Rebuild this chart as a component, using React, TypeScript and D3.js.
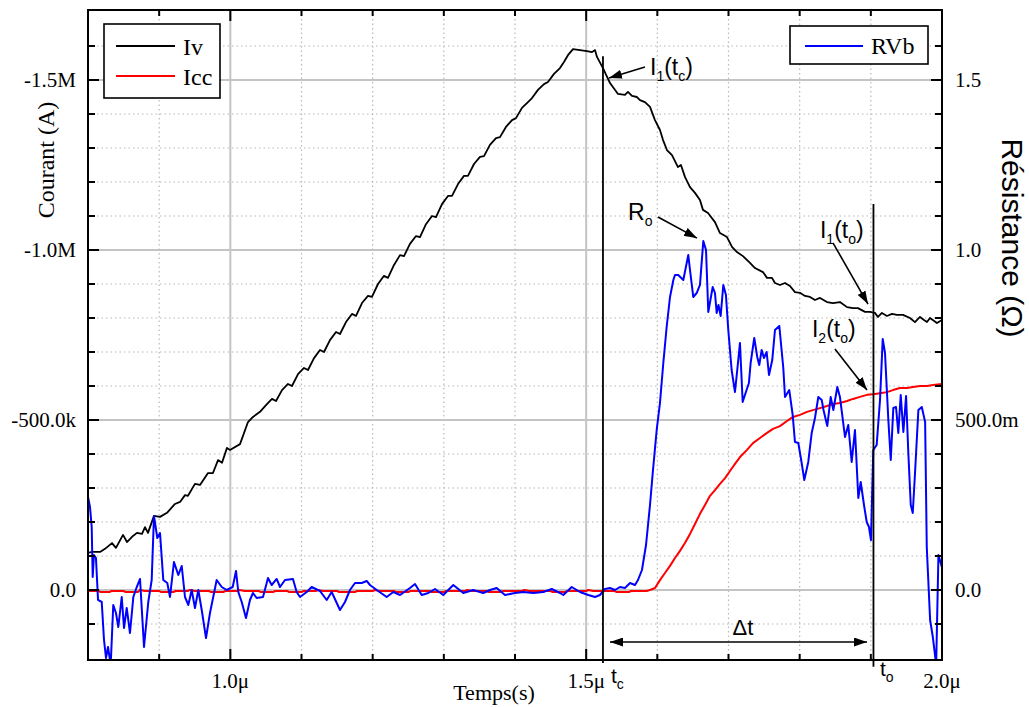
import React from 'react';
import * as d3 from 'd3';

// ---------- data (time in µs, current in kA, resistance in Ω) ----------
const IV: [number, number][] = [
[0.8000,-109],[0.8056,-112],[0.8169,-112],[0.8239,-121],[0.8337,-138],[0.8393,-124],[0.8492,-162],[0.8548,-141],[0.8632,-159],[0.8688,-168],[0.8759,-165],[0.8801,-185],[0.8843,-168],[0.8927,-218],[0.9012,-215],[0.9110,-227],[0.9222,-253],[0.9293,-259],[0.9363,-279],[0.9405,-277],[0.9503,-312],[0.9574,-309],[0.9686,-344],[0.9756,-344],[0.9827,-382],[0.9883,-374],[0.9953,-418],[0.9995,-412],[1.0136,-429],[1.0248,-494],[1.0318,-509],[1.0417,-524],[1.0501,-544],[1.0585,-562],[1.0642,-556],[1.0726,-588],[1.0810,-606],[1.0866,-600],[1.0951,-635],[1.1035,-653],[1.1091,-647],[1.1176,-682],[1.1260,-706],[1.1316,-700],[1.1400,-735],[1.1485,-759],[1.1541,-753],[1.1625,-788],[1.1709,-812],[1.1766,-806],[1.1850,-844],[1.1934,-865],[1.1990,-862],[1.2075,-900],[1.2159,-924],[1.2215,-918],[1.2300,-956],[1.2384,-985],[1.2440,-982],[1.2524,-1018],[1.2609,-1041],[1.2665,-1038],[1.2749,-1076],[1.2834,-1100],[1.2890,-1097],[1.2974,-1135],[1.3058,-1159],[1.3115,-1159],[1.3199,-1194],[1.3283,-1218],[1.3339,-1218],[1.3424,-1253],[1.3508,-1274],[1.3564,-1276],[1.3648,-1309],[1.3733,-1329],[1.3789,-1332],[1.3873,-1362],[1.3958,-1382],[1.4014,-1388],[1.4098,-1418],[1.4182,-1435],[1.4239,-1447],[1.4323,-1471],[1.4407,-1488],[1.4463,-1494],[1.4548,-1518],[1.4632,-1535],[1.4688,-1553],[1.4744,-1573],[1.4815,-1591],[1.4913,-1588],[1.5011,-1585],[1.5082,-1582],[1.5124,-1588],[1.5152,-1568],[1.5236,-1535],[1.5335,-1491],[1.5447,-1459],[1.5545,-1456],[1.5587,-1465],[1.5644,-1453],[1.5714,-1450],[1.5756,-1441],[1.5826,-1435],[1.5897,-1421],[1.5967,-1382],[1.6037,-1353],[1.6079,-1324],[1.6135,-1294],[1.6206,-1279],[1.6290,-1244],[1.6332,-1250],[1.6388,-1215],[1.6459,-1185],[1.6529,-1168],[1.6599,-1147],[1.6641,-1118],[1.6712,-1109],[1.6810,-1082],[1.6880,-1050],[1.6979,-1038],[1.7049,-1009],[1.7119,-994],[1.7203,-982],[1.7302,-962],[1.7372,-947],[1.7484,-935],[1.7541,-918],[1.7611,-918],[1.7653,-903],[1.7723,-897],[1.7794,-903],[1.7864,-894],[1.7934,-876],[1.8004,-874],[1.8075,-865],[1.8145,-862],[1.8215,-853],[1.8285,-859],[1.8384,-847],[1.8468,-844],[1.8566,-847],[1.8665,-832],[1.8749,-829],[1.8819,-829],[1.8918,-818],[1.8988,-818],[1.9058,-815],[1.9100,-803],[1.9156,-815],[1.9227,-806],[1.9297,-812],[1.9367,-809],[1.9452,-809],[1.9550,-800],[1.9620,-788],[1.9691,-803],[1.9747,-794],[1.9789,-788],[1.9831,-800],[1.9929,-785],[2.0000,-794]
];

const ICC: [number, number][] = [
[0.800,3],[0.815,3],[0.818,6],[0.830,6],[0.833,3],[0.850,3],[0.853,6],[0.870,6],[0.873,0],[0.880,3],[0.900,3],[0.903,6],[0.920,6],[0.923,3],[0.940,3],[0.943,0],[0.950,3],[0.970,3],[0.973,6],[0.990,6],[0.993,3],[1.010,3],[1.013,0],[1.020,3],[1.040,3],[1.043,6],[1.060,6],[1.063,3],[1.080,3],[1.083,6],[1.100,6],[1.103,3],[1.120,3],[1.123,0],[1.130,3],[1.150,3],[1.153,6],[1.175,6],[1.178,3],[1.200,3],[1.203,0],[1.210,3],[1.230,3],[1.233,6],[1.250,6],[1.253,3],[1.280,3],[1.283,6],[1.300,6],[1.303,3],[1.330,3],[1.333,0],[1.340,3],[1.360,3],[1.363,6],[1.380,6],[1.383,3],[1.410,3],[1.413,0],[1.420,3],[1.450,3],[1.453,6],[1.470,6],[1.473,3],[1.500,3],[1.503,0],[1.510,3],[1.540,3],[1.543,6],[1.560,6],[1.563,3],[1.585,3],
[1.5897,0],[1.5967,-6],[1.6037,-29],[1.6107,-50],[1.6178,-71],[1.6248,-94],[1.6318,-115],[1.6388,-138],[1.6459,-165],[1.6529,-194],[1.6599,-224],[1.6670,-250],[1.6740,-277],[1.6810,-294],[1.6880,-312],[1.6951,-329],[1.7021,-350],[1.7091,-371],[1.7162,-391],[1.7260,-412],[1.7344,-432],[1.7442,-447],[1.7541,-462],[1.7625,-474],[1.7723,-482],[1.7822,-497],[1.7906,-509],[1.8004,-515],[1.8103,-524],[1.8187,-529],[1.8285,-535],[1.8384,-541],[1.8468,-547],[1.8566,-550],[1.8665,-556],[1.8749,-562],[1.8847,-568],[1.8946,-574],[1.9030,-576],[1.9129,-579],[1.9227,-582],[1.9311,-588],[1.9409,-594],[1.9508,-594],[1.9592,-597],[1.9691,-600],[1.9789,-600],[1.9873,-603],[2.0000,-606]
];

const RVB: [number, number][] = [
[0.8000,0.2735],[0.8028,0.2441],[0.8052,0.1853],[0.8066,0.0382],[0.8084,0.1029],[0.8112,0.0941],[0.8141,-0.0294],[0.8193,-0.0353],[0.8225,-0.1471],[0.8253,-0.2000],[0.8281,-0.1676],[0.8319,-0.2200],[0.8355,-0.0441],[0.8393,-0.0676],[0.8426,-0.1088],[0.8474,-0.0206],[0.8506,-0.1118],[0.8544,-0.0529],[0.8590,-0.1265],[0.8637,-0.0206],[0.8685,0.0088],[0.8731,0.0324],[0.8787,-0.1676],[0.8847,-0.0353],[0.8895,0.0294],[0.8927,0.2176],[0.8974,0.1529],[0.9012,0.1676],[0.9058,0.0294],[0.9114,0.0206],[0.9152,-0.0206],[0.9208,0.0824],[0.9269,0.0441],[0.9317,0.0706],[0.9363,-0.0206],[0.9409,-0.0441],[0.9457,0.0000],[0.9503,-0.0529],[0.9550,0.0000],[0.9598,-0.0588],[0.9658,-0.1412],[0.9714,-0.0676],[0.9808,0.0294],[0.9879,0.0088],[0.9949,0.0000],[1.0033,0.0088],[1.0080,0.0559],[1.0112,-0.0059],[1.0160,-0.0353],[1.0220,-0.0824],[1.0276,-0.0294],[1.0318,-0.0088],[1.0370,-0.0235],[1.0459,-0.0206],[1.0511,0.0206],[1.0529,0.0353],[1.0581,0.0147],[1.0651,0.0324],[1.0698,0.0088],[1.0768,0.0294],[1.0880,0.0324],[1.0932,-0.0059],[1.0979,-0.0206],[1.1073,-0.0059],[1.1143,0.0088],[1.1260,-0.0029],[1.1354,-0.0294],[1.1424,-0.0059],[1.1541,-0.0588],[1.1611,-0.0353],[1.1681,0.0000],[1.1752,0.0206],[1.1846,0.0206],[1.1916,0.0265],[1.1962,0.0147],[1.2057,0.0000],[1.2197,-0.0206],[1.2290,-0.0059],[1.2384,-0.0147],[1.2524,0.0059],[1.2595,0.0176],[1.2689,-0.0147],[1.2782,-0.0088],[1.2876,0.0029],[1.2992,-0.0147],[1.3133,0.0147],[1.3273,-0.0088],[1.3414,0.0000],[1.3554,-0.0088],[1.3649,0.0000],[1.3743,0.0059],[1.3859,-0.0147],[1.4000,-0.0088],[1.4117,-0.0059],[1.4257,-0.0088],[1.4398,-0.0059],[1.4516,0.0029],[1.4632,-0.0088],[1.4679,-0.0147],[1.4797,0.0088],[1.4913,-0.0059],[1.5030,-0.0147],[1.5124,-0.0206],[1.5194,-0.0147],[1.5264,0.0029],[1.5335,0.0059],[1.5405,0.0000],[1.5475,0.0088],[1.5545,0.0059],[1.5616,0.0206],[1.5686,0.0147],[1.5728,0.0294],[1.5784,0.0588],[1.5841,0.1324],[1.5897,0.2500],[1.5939,0.3529],[1.5991,0.4706],[1.6037,0.5500],[1.6084,0.6676],[1.6131,0.7735],[1.6178,0.8618],[1.6225,0.9118],[1.6248,0.9265],[1.6294,0.9265],[1.6365,0.9118],[1.6435,0.9853],[1.6459,0.9412],[1.6505,0.8618],[1.6553,0.8735],[1.6599,0.8971],[1.6646,1.0265],[1.6684,1.0000],[1.6716,0.8176],[1.6778,0.8912],[1.6810,0.8735],[1.6834,0.8147],[1.6859,0.8382],[1.6890,0.8059],[1.6927,0.8971],[1.6964,0.8676],[1.6997,0.7647],[1.7044,0.6471],[1.7091,0.5824],[1.7123,0.6471],[1.7161,0.7265],[1.7199,0.5529],[1.7254,0.5882],[1.7287,0.6088],[1.7311,0.6676],[1.7362,0.7412],[1.7404,0.6853],[1.7432,0.6618],[1.7466,0.7059],[1.7498,0.6824],[1.7536,0.7000],[1.7569,0.6324],[1.7615,0.6765],[1.7653,0.7647],[1.7714,0.7765],[1.7770,0.6529],[1.7794,0.5676],[1.7854,0.5882],[1.7902,0.5147],[1.7934,0.4353],[1.7981,0.4324],[1.8028,0.3735],[1.8065,0.3235],[1.8121,0.3765],[1.8169,0.4618],[1.8215,0.5059],[1.8262,0.5676],[1.8310,0.5588],[1.8335,0.5294],[1.8388,0.4824],[1.8436,0.5676],[1.8473,0.5294],[1.8529,0.5971],[1.8566,0.5676],[1.8637,0.4500],[1.8683,0.4853],[1.8731,0.3765],[1.8777,0.4706],[1.8824,0.2706],[1.8858,0.3176],[1.8904,0.2500],[1.8942,0.2000],[1.8974,0.1853],[1.9002,0.1471],[1.9034,0.4118],[1.9082,0.4265],[1.9129,0.5588],[1.9167,0.7382],[1.9199,0.6971],[1.9246,0.5000],[1.9280,0.3824],[1.9316,0.5353],[1.9354,0.5382],[1.9386,0.4618],[1.9420,0.5735],[1.9457,0.4647],[1.9495,0.5706],[1.9527,0.4029],[1.9561,0.2500],[1.9589,0.2265],[1.9621,0.3441],[1.9668,0.5294],[1.9716,0.5382],[1.9763,0.4941],[1.9786,0.1265],[1.9833,-0.0882],[1.9871,-0.1382],[1.9918,-0.2200],[1.9950,0.1029],[1.9998,0.0676]
];

// ticks
const X_MAJOR = [1.0, 1.5, 2.0];
const X_MAJOR_LABELS = ['1.0\u03bc', '1.5\u03bc', '2.0\u03bc'];
const X_MINOR = [0.9, 1.1, 1.2, 1.3, 1.4, 1.6, 1.7, 1.8, 1.9];
const I_MAJOR = [0, -500, -1000, -1500];
const I_MAJOR_LABELS = ['0.0', '-500.0k', '-1.0M', '-1.5M'];
const I_MINOR = [100, -100, -200, -300, -400, -600, -700, -800, -900, -1100, -1200, -1300, -1400, -1600];
const R_MAJOR = [0, 0.5, 1.0, 1.5];
const R_MAJOR_LABELS = ['0.0', '500.0m', '1.0', '1.5'];

// annotation anchors (data units)
const T_C = 1.5236;
const T_O = 1.9037;

const SERIF = "'Liberation Serif', 'Times New Roman', Times, serif";
const SANS = "'Liberation Sans', Arial, Helvetica, sans-serif";

const W = 1029, H = 707;
const L = 88, R = 942, T = 10, B = 660;

type Part = { s: string; sub?: boolean };

function SubLabel({ x, y, parts, size = 23, subSize = 14, anchor = 'start' }:
  { x: number; y: number; parts: Part[]; size?: number; subSize?: number; anchor?: string }) {
  let prevSub = false;
  return (
    <text x={x} y={y} fontFamily={SANS} fontSize={size} textAnchor={anchor} fill="#000">
      {parts.map((p, i) => {
        let dy = 0;
        if (p.sub && !prevSub) dy = 6;
        if (!p.sub && prevSub) dy = -6;
        prevSub = !!p.sub;
        return (
          <tspan key={i} dy={dy} fontSize={p.sub ? subSize : size}>{p.s}</tspan>
        );
      })}
    </text>
  );
}

export default function App() {
  const x = d3.scaleLinear().domain([0.8, 2.0]).range([L, R]);
  const yI = d3.scaleLinear().domain([205.9, -1705.9]).range([B, T]);
  const yR = d3.scaleLinear().domain([-0.2059, 1.7059]).range([B, T]);

  const lineI = d3.line<[number, number]>().x(d => x(d[0])).y(d => yI(d[1]));
  const lineR = d3.line<[number, number]>().x(d => x(d[0])).y(d => yR(d[1]));

  const gridMinor = '#b8b8b8';
  const gridMajor = '#c4c4c4';

  return (
    <svg width={W} height={H} style={{ position: 'absolute', left: 0, top: 0, background: '#fff' }}>
      <defs>
        <clipPath id="plot"><rect x={L} y={T} width={R - L} height={B - T} /></clipPath>
        <marker id="ah" viewBox="0 0 13 9" refX="13" refY="4.5" markerWidth="13" markerHeight="9"
          markerUnits="userSpaceOnUse" orient="auto-start-reverse">
          <path d="M0,0 L13,4.5 L0,9 z" fill="#000" />
        </marker>
      </defs>
      <rect x={0} y={0} width={W} height={H} fill="#fff" />

      {/* minor grid */}
      <g stroke={gridMinor} strokeWidth={1.2} strokeDasharray="1.5,3">
        {X_MINOR.map(v => <line key={'gx' + v} x1={x(v)} x2={x(v)} y1={T} y2={B} />)}
        {I_MINOR.map(v => <line key={'gy' + v} x1={L} x2={R} y1={yI(v)} y2={yI(v)} />)}
      </g>
      {/* major grid */}
      <g stroke={gridMajor} strokeWidth={2}>
        {X_MAJOR.filter(v => v < 2.0).map(v => <line key={'Gx' + v} x1={x(v)} x2={x(v)} y1={T} y2={B} />)}
        {I_MAJOR.map(v => <line key={'Gy' + v} x1={L} x2={R} y1={yI(v)} y2={yI(v)} />)}
      </g>

      {/* curves */}
      <g clipPath="url(#plot)" fill="none" strokeLinejoin="round">
        <path d={lineI(IV) || ''} stroke="#000" strokeWidth={1.8} />
        <path d={lineI(ICC) || ''} stroke="#ff0000" strokeWidth={2} />
        <path d={lineR(RVB) || ''} stroke="#0000ff" strokeWidth={2} />
      </g>

      {/* ticks */}
      <g stroke="#000" strokeWidth={2}>
        {X_MAJOR.map(v => (
          <g key={'tx' + v}>
            <line x1={x(v)} x2={x(v)} y1={B} y2={B - 11} />
            <line x1={x(v)} x2={x(v)} y1={T} y2={T + 11} />
          </g>
        ))}
        {X_MINOR.map(v => (
          <g key={'tmx' + v}>
            <line x1={x(v)} x2={x(v)} y1={B} y2={B - 6} />
            <line x1={x(v)} x2={x(v)} y1={T} y2={T + 6} />
          </g>
        ))}
        {I_MAJOR.map(v => (
          <g key={'ty' + v}>
            <line x1={L} x2={L + 11} y1={yI(v)} y2={yI(v)} />
            <line x1={R} x2={R - 11} y1={yI(v)} y2={yI(v)} />
          </g>
        ))}
        {I_MINOR.map(v => (
          <g key={'tmy' + v}>
            <line x1={L} x2={L + 7} y1={yI(v)} y2={yI(v)} />
            <line x1={R} x2={R - 7} y1={yI(v)} y2={yI(v)} />
          </g>
        ))}
      </g>

      {/* frame */}
      <rect x={L} y={T} width={R - L} height={B - T} fill="none" stroke="#000" strokeWidth={2} />

      {/* tick labels */}
      <g fontFamily={SERIF} fontSize={21} fill="#000">
        {X_MAJOR.map((v, i) => (
          <text key={'lx' + v} x={x(v)} y={688} textAnchor="middle">{X_MAJOR_LABELS[i]}</text>
        ))}
        {I_MAJOR.map((v, i) => (
          <text key={'ly' + v} x={L - 12} y={yI(v) + 7} textAnchor="end">{I_MAJOR_LABELS[i]}</text>
        ))}
        {R_MAJOR.map((v, i) => (
          <text key={'lr' + v} x={R + 13} y={yR(v) + 7} textAnchor="start">{R_MAJOR_LABELS[i]}</text>
        ))}
      </g>

      {/* axis titles */}
      <text transform="translate(54,160) rotate(-90)" textAnchor="middle" fontFamily={SERIF} fontSize={24}>Courant (A)</text>
      <text transform="translate(1002,238) rotate(90)" textAnchor="middle" fontFamily={SANS} fontSize={30}>Résistance (Ω)</text>
      <text x={494} y={700} textAnchor="middle" fontFamily={SERIF} fontSize={22}>Temps(s)</text>

      {/* vertical markers tc and to */}
      <g stroke="#000" strokeWidth={1.8}>
        <line x1={x(T_C)} x2={x(T_C)} y1={yI(-1570)} y2={yI(215)} />
        <line x1={x(T_O)} x2={x(T_O)} y1={yI(-1135)} y2={yI(226)} />
      </g>

      {/* arrows */}
      <g stroke="#000" strokeWidth={1.6} markerEnd="url(#ah)">
        <line x1={x(1.5826)} y1={yI(-1538)} x2={x(1.5320)} y2={yI(-1506)} />
        <line x1={x(1.6009)} y1={yR(1.097)} x2={x(1.6557)} y2={yR(1.035)} />
        <line x1={x(1.8468)} y1={yI(-1021)} x2={x(1.8960)} y2={yI(-841)} />
        <line x1={x(1.8496)} y1={yI(-709)} x2={x(1.8946)} y2={yI(-588)} />
      </g>
      <line x1={x(1.5335)} y1={yI(153)} x2={x(1.8946)} y2={yI(153)} stroke="#000" strokeWidth={1.6}
        markerStart="url(#ah)" markerEnd="url(#ah)" />

      {/* annotation labels */}
      <SubLabel x={x(1.5897)} y={yI(-1515)} parts={[{ s: 'I' }, { s: '1', sub: true }, { s: '(t' }, { s: 'c', sub: true }, { s: ')' }]} />
      <SubLabel x={x(1.5588)} y={yR(1.088)} parts={[{ s: 'R' }, { s: 'o', sub: true }]} />
      <SubLabel x={x(1.8285)} y={yI(-1035)} parts={[{ s: 'I' }, { s: '1', sub: true }, { s: '(t' }, { s: 'o', sub: true }, { s: ')' }]} />
      <SubLabel x={x(1.8173)} y={yI(-744)} parts={[{ s: 'I' }, { s: '2', sub: true }, { s: '(t' }, { s: 'o', sub: true }, { s: ')' }]} />
      <text x={x(1.7203)} y={yI(132)} textAnchor="middle" fontFamily={SANS} fontSize={22}>Δt</text>
      <SubLabel x={x(1.5349)} y={yI(274)} size={21} parts={[{ s: 't' }, { s: 'c', sub: true }]} />
      <SubLabel x={x(1.9129)} y={yI(253)} size={21} parts={[{ s: 't' }, { s: 'o', sub: true }]} />

      {/* legends */}
      <g>
        <rect x={104} y={24} width={116} height={74} fill="#fff" stroke="#000" strokeWidth={1.6} />
        <line x1={116} x2={175} y1={46} y2={46} stroke="#000" strokeWidth={1.8} />
        <text x={183} y={55} fontFamily={SERIF} fontSize={24}>Iv</text>
        <line x1={116} x2={175} y1={76} y2={76} stroke="#ff0000" strokeWidth={2} />
        <text x={183} y={85} fontFamily={SERIF} fontSize={24}>Icc</text>
      </g>
      <g>
        <rect x={790} y={26} width={138} height={38} fill="#fff" stroke="#000" strokeWidth={1.6} />
        <line x1={805} x2={863} y1={46} y2={46} stroke="#0000ff" strokeWidth={2} />
        <text x={871} y={54} fontFamily={SERIF} fontSize={24}>RVb</text>
      </g>
    </svg>
  );
}
